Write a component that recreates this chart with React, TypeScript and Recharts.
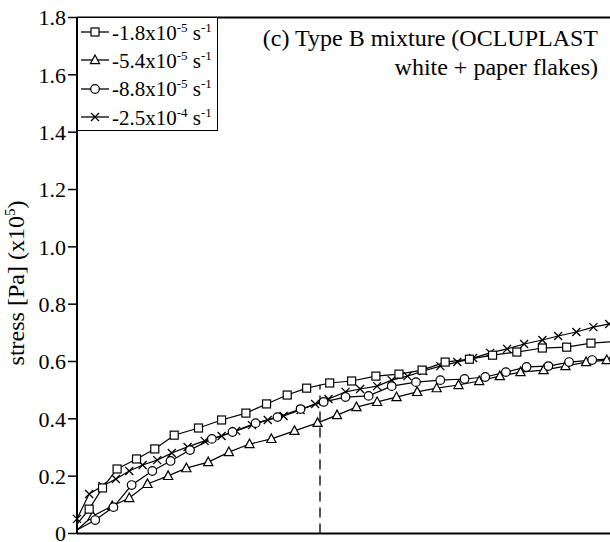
import { LineChart, Line, XAxis, YAxis, ReferenceLine, Legend } from 'recharts';

// strain (arbitrary axis units, ticks 0..5) and stress (x10^5 Pa) per strain rate
const squareX = [0, 0.1, 0.21, 0.33, 0.49, 0.64, 0.8, 1.0, 1.19, 1.39, 1.56, 1.73, 1.89, 2.08, 2.26, 2.46, 2.65, 2.84, 3.03, 3.23, 3.42, 3.62, 3.83, 4.03, 4.23, 4.43];
const squareY = [0.033, 0.085, 0.159, 0.225, 0.26, 0.295, 0.343, 0.368, 0.396, 0.42, 0.452, 0.483, 0.507, 0.525, 0.532, 0.549, 0.556, 0.57, 0.598, 0.608, 0.622, 0.633, 0.647, 0.65, 0.664, 0.67];

const triangleX = [0, 0.13, 0.29, 0.43, 0.58, 0.75, 0.9, 1.08, 1.25, 1.42, 1.6, 1.79, 1.98, 2.14, 2.3, 2.47, 2.63, 2.8, 2.96, 3.14, 3.31, 3.48, 3.65, 3.84, 4.02, 4.19, 4.36];
const triangleY = [0.012, 0.061, 0.096, 0.124, 0.173, 0.201, 0.228, 0.249, 0.284, 0.312, 0.33, 0.358, 0.386, 0.413, 0.441, 0.459, 0.476, 0.494, 0.507, 0.518, 0.532, 0.549, 0.563, 0.57, 0.584, 0.598, 0.605];

const circleX = [0, 0.15, 0.3, 0.45, 0.62, 0.77, 0.93, 1.11, 1.28, 1.47, 1.65, 1.84, 2.03, 2.21, 2.4, 2.59, 2.79, 2.99, 3.19, 3.36, 3.53, 3.7, 3.88, 4.05, 4.24, 4.42];
const circleY = [0.012, 0.047, 0.092, 0.169, 0.218, 0.253, 0.291, 0.33, 0.354, 0.385, 0.406, 0.434, 0.459, 0.476, 0.48, 0.514, 0.528, 0.535, 0.539, 0.546, 0.563, 0.581, 0.584, 0.598, 0.605, 0.61];

const crossX = [0, 0.1, 0.21, 0.32, 0.43, 0.54, 0.66, 0.78, 0.91, 1.05, 1.19, 1.31, 1.44, 1.57, 1.7, 1.84, 1.96, 2.07, 2.21, 2.33, 2.47, 2.59, 2.72, 2.85, 2.99, 3.13, 3.26, 3.4, 3.54, 3.68, 3.83, 3.96, 4.11, 4.25, 4.38];
const crossY = [0.051, 0.138, 0.166, 0.19, 0.218, 0.239, 0.256, 0.281, 0.302, 0.323, 0.34, 0.358, 0.378, 0.396, 0.41, 0.431, 0.452, 0.469, 0.494, 0.504, 0.514, 0.535, 0.549, 0.567, 0.584, 0.598, 0.612, 0.63, 0.644, 0.661, 0.675, 0.689, 0.703, 0.72, 0.731];

const rateLabels = [
  ['-1.8x10', '-5'],
  ['-5.4x10', '-5'],
  ['-8.8x10', '-5'],
  ['-2.5x10', '-4'],
];
const shapes = ['square', 'triangle', 'circle', 'cross'];

const yTicks = [0, 0.2, 0.4, 0.6, 0.8, 1.0, 1.2, 1.4, 1.6, 1.8];
const xTicks = [0, 1, 2, 3, 4, 5];
const markedStrain = 2;
const markedStress = 0.52;

const toRows = (xs: number[], ys: number[]) => xs.map((x, i) => ({ x, y: ys[i] }));

const FONT = '"Liberation Serif", "Times New Roman", serif';

const Marker = ({ shape, cx, cy }: { shape: string; cx: number; cy: number }) => {
  const st = { fill: '#fff', stroke: '#000', strokeWidth: 1.2 };
  if (shape === 'square') return <rect x={cx - 4} y={cy - 4} width={8} height={8} {...st} />;
  if (shape === 'triangle')
    return <polygon points={`${cx},${cy - 5} ${cx - 4.6},${cy + 3.6} ${cx + 4.6},${cy + 3.6}`} {...st} />;
  if (shape === 'circle') return <circle cx={cx} cy={cy} r={4.3} {...st} />;
  return <path d={`M${cx - 4},${cy - 4}L${cx + 4},${cy + 4}M${cx + 4},${cy - 4}L${cx - 4},${cy + 4}`} stroke="#000" strokeWidth={1.3} fill="none" />;
};

const dotFor = (shape: string, skipFirst: boolean) => (p: any) => {
  if (skipFirst && p.index === 0) return <g key={p.key ?? p.index} />;
  return (
    <g key={p.key ?? p.index}>
      <Marker shape={shape} cx={p.cx} cy={p.cy} />
    </g>
  );
};

const LegendBox = () => (
  <div
    style={{
      border: '1px solid #000',
      boxSizing: 'border-box',
      width: 141,
      height: 114,
      background: '#fff',
      fontFamily: FONT,
      fontSize: 21,
      color: '#000',
      paddingTop: 0,
    }}
  >
    {rateLabels.map(([base, exp], i) => (
      <div key={i} style={{ height: 28.3, display: 'flex', alignItems: 'center', whiteSpace: 'nowrap' }}>
        <svg width={34} height={16} style={{ flex: 'none' }}>
          <line x1={3} y1={8} x2={31} y2={8} stroke="#000" strokeWidth={1.3} />
          <Marker shape={shapes[i]} cx={17} cy={8} />
        </svg>
        <span style={{ lineHeight: 1 }}>
          {base}
          <sup style={{ fontSize: 13 }}>{exp}</sup> s<sup style={{ fontSize: 13 }}>-1</sup>
        </span>
      </div>
    ))}
  </div>
);

const YLabel = () => (
  <text x={24} y={283} transform="rotate(-90 24 283)" textAnchor="middle" fontFamily={FONT} fontSize={24} fill="#000">
    stress [Pa] (x10
    <tspan dy={-9} fontSize={15}>5</tspan>
    <tspan dy={9}>)</tspan>
  </text>
);

export default function App() {
  return (
    <div style={{ position: 'fixed', left: 0, top: 0, width: 610, height: 542, overflow: 'hidden', background: '#fff' }}>
      <div
        style={{
          position: 'absolute',
          right: 12,
          top: 24,
          zIndex: 2,
          textAlign: 'right',
          fontFamily: FONT,
          fontSize: 24,
          lineHeight: '29px',
          color: '#000',
        }}
      >
        (c) Type B mixture (OCLUPLAST
        <br />
        white + paper flakes)
      </div>
      <LineChart width={700} height={600} margin={{ top: 17.5, right: 15.5, bottom: 36.5, left: 37 }}>
        <XAxis
          dataKey="x"
          type="number"
          domain={[0, 5]}
          ticks={xTicks}
          tick={false}
          tickSize={10}
          height={30}
          axisLine={{ stroke: '#000', strokeWidth: 2 }}
          tickLine={{ stroke: '#000', strokeWidth: 1.5 }}
          allowDuplicatedCategory={false}
        />
        <YAxis
          type="number"
          domain={[0, 1.8]}
          ticks={yTicks}
          width={40}
          tickSize={9}
          interval={0}
          tickFormatter={(v: number) => (v === 0 ? '0' : v.toFixed(1))}
          tick={{ fill: '#000', fontSize: 22, fontFamily: FONT }}
          axisLine={{ stroke: '#000', strokeWidth: 2 }}
          tickLine={{ stroke: '#000', strokeWidth: 1.5 }}
          label={{ content: () => <YLabel /> }}
        />
        <ReferenceLine y={1.8} stroke="#000" strokeWidth={2} />
        <ReferenceLine
          segment={[
            { x: markedStrain, y: 0 },
            { x: markedStrain, y: markedStress },
          ]}
          stroke="#000"
          strokeWidth={1.3}
          strokeDasharray="10 6"
        />
        <Line data={toRows(crossX, crossY)} dataKey="y" stroke="#000" strokeWidth={1.2} dot={dotFor('cross', false)} isAnimationActive={false} />
        <Line data={toRows(triangleX, triangleY)} dataKey="y" stroke="#000" strokeWidth={1.2} dot={dotFor('triangle', true)} isAnimationActive={false} />
        <Line data={toRows(circleX, circleY)} dataKey="y" stroke="#000" strokeWidth={1.2} dot={dotFor('circle', true)} isAnimationActive={false} />
        <Line data={toRows(squareX, squareY)} dataKey="y" stroke="#000" strokeWidth={1.2} dot={dotFor('square', true)} isAnimationActive={false} />
        <Legend
          layout="vertical"
          align="center"
          verticalAlign="middle"
          content={() => <LegendBox />}
          wrapperStyle={{ top: 17, left: 77, width: 141, height: 114, right: 'auto', bottom: 'auto' }}
        />
      </LineChart>
    </div>
  );
}
